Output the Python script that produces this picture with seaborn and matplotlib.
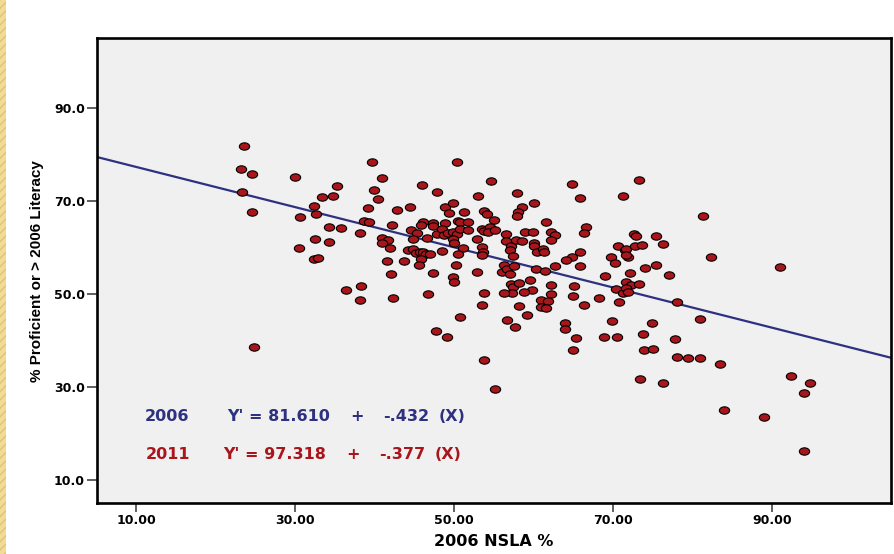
import numpy as np
import pandas as pd
import matplotlib
matplotlib.use("Agg")
import matplotlib.pyplot as plt
import seaborn as sns
from matplotlib.markers import MarkerStyle
from matplotlib.transforms import Affine2D
from matplotlib.patches import Rectangle

# ---- data ----
nsla_2006 = [
    23.5, 23.2, 24.5, 23.3, 24.5, 24.8, 30.0, 30.6, 30.5, 32.3,
    32.6, 32.5, 32.3, 32.8, 33.4, 34.3, 34.3, 34.8, 35.2, 35.8,
    36.4, 38.3, 38.1, 38.2, 38.7, 39.3, 39.1, 39.7, 40.9, 39.9,
    40.4, 40.9, 41.7, 40.9, 41.9, 41.6, 42.1, 42.3, 42.2, 42.8,
    43.7, 44.4, 45.9, 47.8, 50.4, 53.0, 54.7, 44.6, 45.3, 44.8,
    46.1, 45.8, 46.6, 44.2, 44.8, 45.2, 45.7, 46.1, 46.4, 47.0,
    45.8, 45.6, 47.4, 47.4, 48.8, 50.5, 50.7, 51.8, 47.9, 48.5,
    48.7, 49.2, 49.8, 50.4, 50.7, 51.8, 49.9, 50.0, 51.1, 50.5,
    48.5, 48.8, 49.4, 49.8, 51.3, 53.8, 54.2, 55.0, 53.5, 53.8,
    54.5, 54.3, 55.2, 52.9, 53.5, 53.6, 53.5, 50.2, 47.4, 49.9,
    50.0, 52.9, 46.7, 53.8, 53.5, 50.7, 47.7, 49.1, 53.8, 55.2,
    56.0, 56.5, 56.5, 57.1, 57.0, 57.4, 56.3, 56.7, 57.5, 57.0,
    57.9, 60.0, 64.8, 65.8, 58.6, 58.0, 57.9, 61.6, 66.6, 66.3,
    58.9, 59.9, 62.2, 62.7, 62.2, 57.8, 58.5, 60.1, 60.0, 60.4,
    61.2, 61.3, 65.9, 64.8, 64.1, 69.8, 70.3, 65.8, 62.7, 60.3,
    61.4, 69.0, 59.5, 57.2, 57.4, 58.2, 62.2, 65.1, 59.8, 58.8,
    57.3, 56.3, 62.2, 65.0, 68.2, 61.0, 61.8, 61.0, 61.6, 66.4,
    58.2, 59.2, 56.6, 69.9, 64.0, 57.7, 64.0, 65.3, 65.0, 70.6,
    73.3, 71.3, 81.3, 72.6, 72.9, 75.4, 76.3, 71.5, 71.6, 71.9,
    71.7, 72.8, 73.6, 82.4, 91.0, 72.1, 74.0, 75.4, 77.1, 71.6,
    72.3, 73.3, 70.4, 71.2, 71.6, 71.9, 70.7, 78.1, 80.9, 74.9,
    73.8, 68.9, 70.5, 77.8, 73.9, 75.1, 78.0, 79.4, 80.9, 83.5,
    92.4, 94.8, 94.1, 73.4, 76.3, 84.0, 89.0, 94.1,
]
pct_proficient = [
    81.8, 76.9, 75.8, 71.9, 67.6, 38.6, 75.2, 66.6, 59.9, 68.9,
    67.2, 61.8, 57.5, 57.7, 70.9, 64.4, 61.2, 71.1, 73.2, 64.2,
    50.9, 51.7, 48.7, 63.1, 65.7, 65.5, 68.5, 78.4, 74.9, 72.4,
    70.4, 62.0, 61.6, 61.0, 59.9, 57.1, 54.3, 49.1, 64.8, 68.1,
    57.0, 68.7, 73.4, 72.0, 78.3, 71.0, 74.2, 63.8, 63.0, 61.8,
    65.5, 64.9, 62.0, 59.5, 59.7, 58.8, 59.0, 59.0, 58.5, 58.5,
    57.6, 56.2, 65.2, 64.6, 65.2, 65.6, 65.5, 65.5, 62.8, 64.0,
    62.7, 63.1, 63.3, 62.8, 63.9, 63.8, 61.8, 60.9, 59.9, 58.5,
    59.2, 68.7, 67.5, 69.6, 67.7, 67.8, 67.1, 65.8, 63.9, 63.5,
    64.3, 63.3, 63.8, 61.7, 60.0, 59.1, 58.3, 56.3, 54.5, 53.6,
    52.5, 54.8, 50.0, 50.2, 47.6, 45.1, 42.1, 40.7, 35.8, 29.6,
    54.7, 62.8, 61.4, 60.3, 59.5, 58.2, 56.2, 55.3, 56.0, 54.2,
    71.8, 69.6, 73.6, 70.6, 68.6, 67.7, 66.8, 65.4, 64.3, 63.1,
    63.3, 63.4, 63.2, 62.7, 61.6, 61.5, 61.4, 60.9, 60.3, 59.1,
    59.6, 59.0, 59.1, 57.9, 57.2, 57.9, 56.7, 56.0, 55.9, 55.4,
    55.0, 53.9, 52.9, 52.2, 51.4, 52.3, 51.8, 51.7, 50.9, 50.4,
    50.2, 50.1, 49.9, 49.6, 49.2, 48.6, 48.5, 47.1, 47.0, 47.7,
    47.4, 45.5, 44.4, 44.2, 43.8, 42.8, 42.4, 40.4, 38.0, 60.3,
    74.5, 71.1, 66.8, 62.8, 62.5, 62.5, 60.8, 59.5, 59.7, 58.0,
    58.3, 60.4, 60.5, 57.9, 55.7, 54.5, 55.6, 56.3, 54.0, 52.6,
    51.9, 52.2, 51.1, 50.2, 51.2, 50.4, 48.3, 48.3, 44.6, 43.7,
    41.3, 40.8, 40.8, 40.2, 38.0, 38.2, 36.5, 36.1, 36.1, 35.0,
    32.3, 30.9, 28.7, 31.6, 30.9, 25.1, 23.5, 16.2,
]
x_ticks = [10, 30, 50, 70, 90]
x_tick_labels = ["10.00", "30.00", "50.00", "70.00", "90.00"]
y_ticks = [10, 30, 50, 70, 90]
y_tick_labels = ["10.0", "30.0", "50.0", "70.0", "90.0"]
eq_years = ["2006", "2011"]
eq_intercepts = [81.610, 97.318]
eq_slopes = [-0.432, -0.377]
x_label = "2006 NSLA %"
y_label = "% Proficient or > 2006 Literacy"

df = pd.DataFrame({"nsla": nsla_2006, "prof": pct_proficient})

# ---- style ----
sns.set_theme(style="white")
plt.rcParams["font.family"] = ["DejaVu Sans"]
plt.rcParams["text.color"] = "black"
plt.rcParams["xtick.color"] = "black"
plt.rcParams["ytick.color"] = "black"
plt.rcParams["axes.labelcolor"] = "black"

navy = "#2E3180"
dred = "#A8161C"

fig = plt.figure(figsize=(8.94, 5.54), dpi=100)
fig.patch.set_facecolor("white")
# golden strip on the left edge
fig.patches.append(Rectangle((0, 0), 6 / 894, 1, transform=fig.transFigure,
                             facecolor="#F2DA98", edgecolor="#E3C36E",
                             hatch="////", linewidth=0, zorder=0))

ax = fig.add_axes([0.1082, 0.0921, 0.8884, 0.8389])
ax.set_facecolor("#F0F0F0")

ell = MarkerStyle("o", transform=Affine2D().scale(1.4, 1.0))
sns.scatterplot(data=df, x="nsla", y="prof", ax=ax, marker=ell, s=28,
                color=dred, edgecolor="black", linewidth=0.8, zorder=3,
                legend=False)

ax.set_xlim(5, 105)
ax.set_ylim(5, 105)
xs = np.array(ax.get_xlim())
ax.plot(xs, eq_intercepts[0] + eq_slopes[0] * xs, color=navy, lw=1.6,
        zorder=2)
ax.set_xlim(5, 105)

ax.set_xticks(x_ticks)
ax.set_xticklabels(x_tick_labels, fontsize=9, fontweight="bold")
ax.set_yticks(y_ticks)
ax.set_yticklabels(y_tick_labels, fontsize=9, fontweight="bold")
ax.tick_params(axis="both", direction="out", length=6.5, width=1.1,
               color="#333333", labelcolor="black", pad=1.5,
               bottom=True, left=True)
ax.tick_params(axis="y", length=7)

for sp in ax.spines.values():
    sp.set_color("black")
    sp.set_linewidth(1.9)

ax.set_xlabel(x_label, fontsize=11.5, fontweight="bold", labelpad=5)
ax.set_ylabel(y_label, fontsize=11, fontweight="bold",
              family=["Liberation Sans", "DejaVu Sans"], labelpad=7)

# equation annotations
colors = [navy, dred]
rows_y = [23.6, 15.4]
x_year = [11.1, 11.2]
x_eq = [21.4, 20.9]
x_plus = [36.9, 36.4]
x_slope = [41.1, 40.6]
x_X = [48.1, 47.6]
for i in range(2):
    kw = dict(color=colors[i], fontsize=11.5, fontweight="bold",
              va="center", ha="left", zorder=4)
    ax.text(x_year[i], rows_y[i], eq_years[i], **kw)
    ax.text(x_eq[i], rows_y[i], f"Y' = {eq_intercepts[i]:.3f}", **kw)
    ax.text(x_plus[i], rows_y[i], "+", **kw)
    ax.text(x_slope[i], rows_y[i], f"{eq_slopes[i]:.3f}".replace("0.", "."), **kw)
    ax.text(x_X[i], rows_y[i], "(X)", **kw)

fig.savefig("out.png", dpi=100)
